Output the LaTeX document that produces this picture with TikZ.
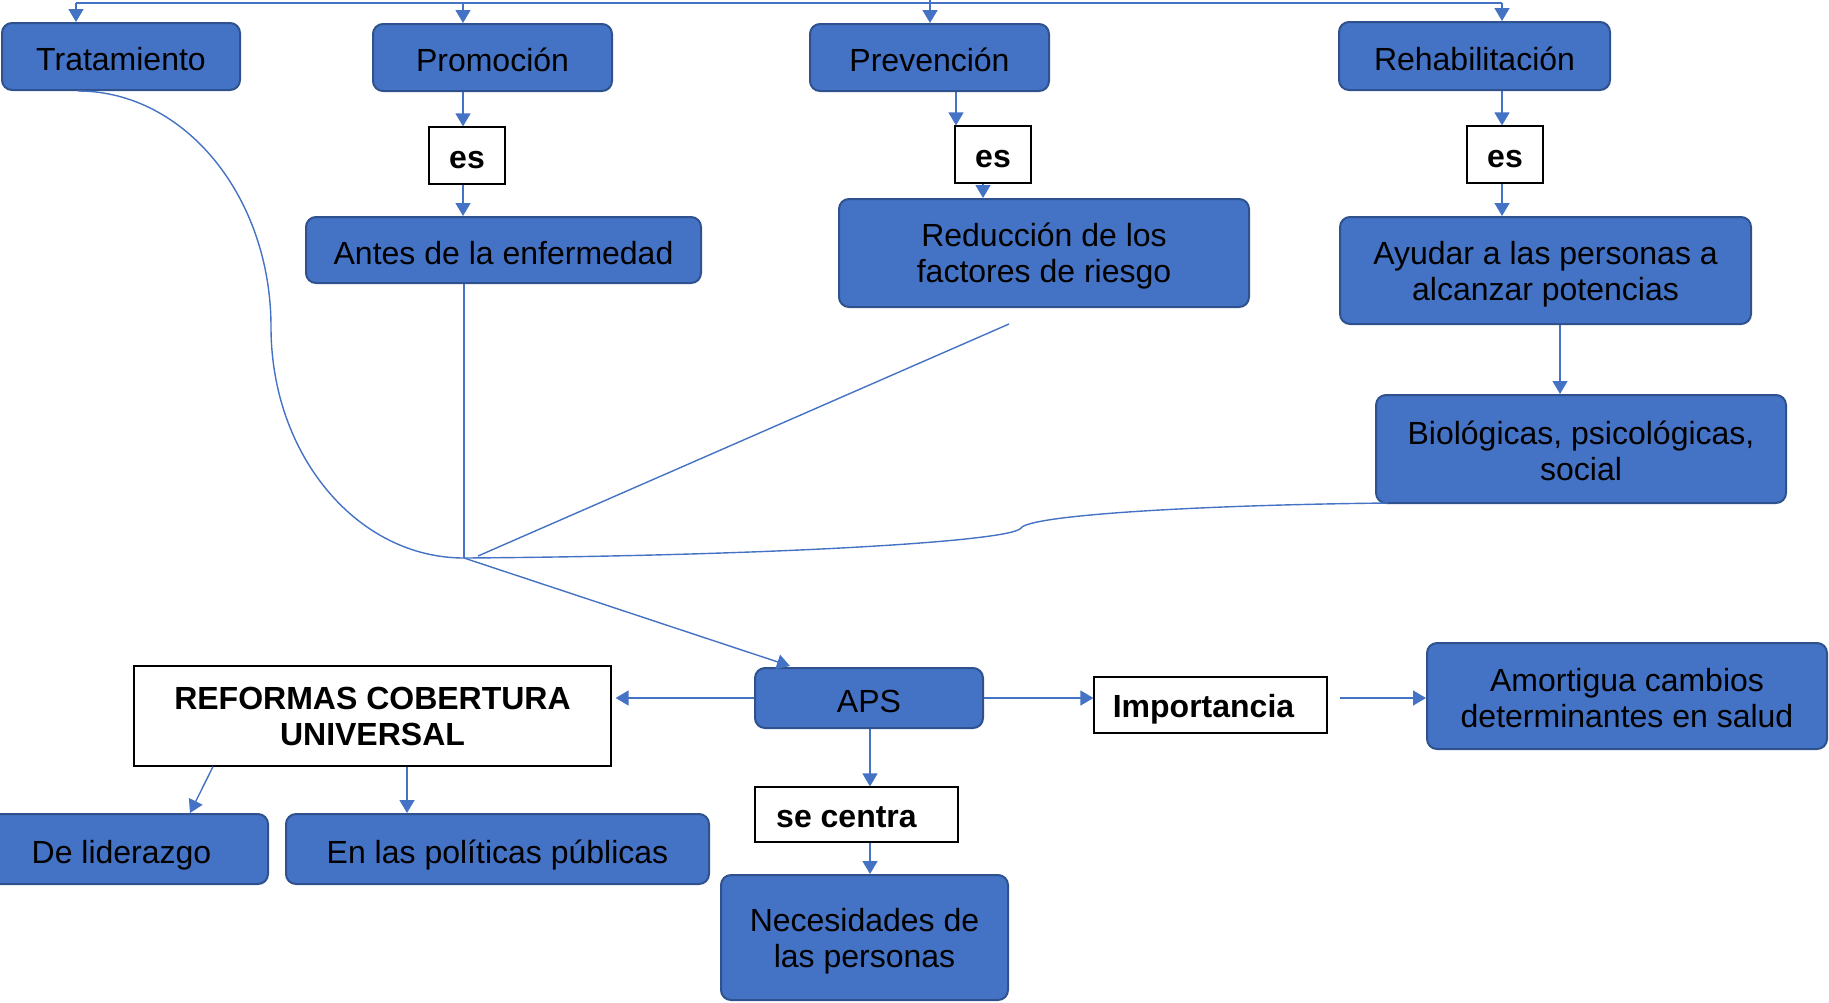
\documentclass[tikz,border=0pt]{standalone}
\usepackage{fontspec}
\setmainfont{Liberation Sans}
\usetikzlibrary{arrows.meta}
\definecolor{boxblue}{HTML}{4472C4}
\definecolor{boxedge}{HTML}{2F528F}
\definecolor{linkblue}{HTML}{4472C4}
\newcommand\firststrut{\rule{0pt}{15pt}}
\newcommand\laststrut{\rule[-2pt]{0pt}{2pt}}
\begin{document}
\begin{tikzpicture}[x=0.5pt,y=-0.5pt,
  bluebase/.style={draw=boxedge, line width=1pt, fill=boxblue, rounded corners=5pt,
    inner sep=0pt, align=center, font=\fontsize{16}{18}\selectfont, text=black},
  bluebox/.style={bluebase, text height=15pt, text depth=1pt},
  bluemulti/.style={bluebase},
  whitebox/.style={draw=black, line width=0.6pt, fill=white, inner sep=0pt,
    align=center, font=\fontsize{16}{18}\selectfont\bfseries, text=black},
  wordbox/.style={whitebox, text height=13.5pt, text depth=1pt},
  link/.style={draw=linkblue, line width=0.7pt},
  arr/.style={link, -{Triangle[length=6.5pt,width=7.5pt]}}]
\useasboundingbox (0,0) rectangle (1829,1002);

% top row
\node[bluebox, minimum width=119pt, minimum height=33.5pt] (trat) at (121,56.5) {Tratamiento};
\node[bluebox, minimum width=119.5pt, minimum height=33.5pt] (prom) at (492.5,57.5) {Promoción};
\node[bluebox, minimum width=119.5pt, minimum height=33.5pt] (prev) at (929.5,57.5) {Prevención};
\node[bluebox, minimum width=135.5pt, minimum height=34pt] (rehab) at (1474.5,56) {Rehabilitación};

% es boxes
\node[wordbox, minimum width=38pt, minimum height=28.5pt] (es1) at (467,155.5) {es};
\node[wordbox, minimum width=38pt, minimum height=28.5pt] (es2) at (993,154.5) {es};
\node[wordbox, minimum width=38pt, minimum height=28.5pt] (es3) at (1505,154.5) {es};

% second row
\node[bluebox, minimum width=197.5pt, minimum height=33pt] (antes) at (503.5,250) {Antes de la enfermedad};
\node[bluemulti, minimum width=205pt, minimum height=54pt] (reduc) at (1044,253) {\firststrut Reducción de los\\factores de riesgo\laststrut};
\node[bluemulti, minimum width=205.5pt, minimum height=53.5pt] (ayudar) at (1545.5,270.5) {\firststrut Ayudar a las personas a\\alcanzar potencias\laststrut};
\node[bluemulti, minimum width=205pt, minimum height=54pt] (bio) at (1581,449) {\firststrut Biológicas, psicológicas,\\social\laststrut};

% bottom part
\node[bluebox, minimum width=114pt, minimum height=30pt] (aps) at (869,698) {APS};
\node[whitebox, minimum width=238.5pt, minimum height=50pt] (ref) at (372.5,716) {REFORMAS COBERTURA\\UNIVERSAL};
\node[wordbox, minimum width=116.5pt, minimum height=28pt] (imp) at (1210.5,705) {Importancia\hspace*{7pt}};
\node[bluemulti, minimum width=200pt, minimum height=53pt] (amort) at (1627,696) {\firststrut Amortigua cambios\\determinantes en salud\laststrut};
\node[wordbox, minimum width=101.5pt, minimum height=27.5pt] (secentra) at (856.5,814.5) {se centra\hspace*{10pt}};
\node[bluebox, minimum width=146.5pt, minimum height=35pt] (lider) at (121.5,849) {De liderazgo};
\node[bluebox, minimum width=211.5pt, minimum height=35pt] (polit) at (497.5,849) {En las políticas públicas};
\node[bluemulti, minimum width=143.5pt, minimum height=62.5pt] (nec) at (864.5,937.5) {\firststrut Necesidades de\\las personas\laststrut};

% helper coordinates
\coordinate (hub) at (930,0);
\coordinate (tA) at (76,3);
\coordinate (tB) at (463,3);
\coordinate (tC) at (930,3);
\coordinate (tD) at (1502,3);
\coordinate (xes2) at (956,0);
\coordinate (xred) at (983,0);
\coordinate (xbio) at (1560,0);
\coordinate (J) at (464,558);
\coordinate (trS) at (78,91);
\coordinate (redS) at (1009,324);
\coordinate (redE) at (478,556);
\coordinate (bioS) at (1388,503);
\coordinate (apsIn) at (790,666);
\coordinate (xlid) at (190,0);
\coordinate (xrefL) at (213,0);
\coordinate (xpol) at (407,0);
\coordinate (xsc) at (870,0);

% top distribution line
\draw[link] (hub) -- (tC);
\draw[link] (tA) -- (tD);
\draw[arr] (tA) -- (trat.north -| tA);
\draw[arr] (tB) -- (prom.north -| tB);
\draw[arr] (tC) -- (prev.north -| tC);
\draw[arr] (tD) -- (rehab.north -| tD);

% vertical chains
\draw[arr] (prom.south -| tB) -- (es1.north -| tB);
\draw[arr] (es1.south -| tB) -- (antes.north -| tB);
\draw[arr] (prev.south -| xes2) -- (es2.north -| xes2);
\draw[arr] (es2.south -| xred) -- (reduc.north -| xred);
\draw[arr] (rehab.south -| tD) -- (es3.north -| tD);
\draw[arr] (es3.south -| tD) -- (ayudar.north -| tD);
\draw[arr] (ayudar.south -| xbio) -- (bio.north -| xbio);

% converging lines
\draw[link] (antes.south -| J) -- (J);
\draw[link] (trS) .. controls (185,91) and (271,197) .. (271,327)
  .. controls (271,455) and (357,558) .. (J);
\draw[link] (redS) -- (redE);
\draw[link] (bioS) .. controls (1200,505) and (1030,515) .. (1021,528)
  .. controls (1012,542) and (760,556) .. (J);
\draw[arr] (J) -- (apsIn);

% bottom connectors
\draw[arr] (aps.west) -- ([xshift=2pt]ref.east |- aps.west);
\draw[arr] (aps.east) -- (imp.west |- aps.east);
\draw[arr] ([xshift=6pt]imp.east |- aps.east) -- (amort.west |- aps.east);
\draw[arr] (aps.south -| xsc) -- (secentra.north -| xsc);
\draw[arr] (secentra.south -| xsc) -- (nec.north -| xsc);
\draw[arr] (ref.south -| xrefL) -- (lider.north -| xlid);
\draw[arr] (ref.south -| xpol) -- (polit.north -| xpol);
\end{tikzpicture}
\end{document}
